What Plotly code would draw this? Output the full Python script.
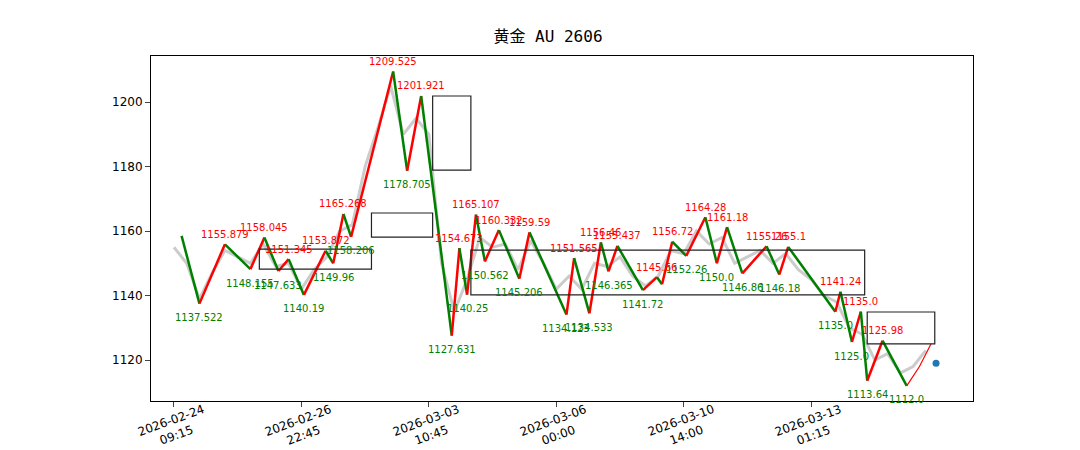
import plotly.graph_objects as go

# bar index of each pivot and its price
piv_x = [6, 20, 40, 60, 71, 82, 90, 102, 119, 125, 133, 139, 172, 183, 194, 218, 224, 230, 237, 244,
         255, 271, 279, 308, 314, 326, 335, 341, 348, 368, 379, 383, 391, 402, 417, 426, 434, 446,
         465, 475, 482, 519, 523, 532, 539, 544, 556, 575]
piv_y = [1158.5, 1137.5, 1155.9, 1148.2, 1158.0, 1147.6, 1151.3, 1140.2, 1153.9, 1150.0, 1165.3, 1158.2,
         1209.5, 1178.7, 1201.9, 1127.6, 1154.7, 1140.3, 1165.1, 1150.6, 1160.3, 1145.2, 1159.6, 1134.1,
         1151.6, 1134.5, 1156.5, 1147.5, 1155.4, 1141.7, 1145.7, 1143.5, 1156.7, 1152.3, 1164.3, 1150.0,
         1161.2, 1146.9, 1155.3, 1146.5, 1155.1, 1135.0, 1141.2, 1125.6, 1135.0, 1113.6, 1126.0, 1112.0]
piv_text = ['', '1137.522', '1155.879', '1148.155', '1158.045', '1147.633', '1151.345', '1140.19',
            '1153.872', '1149.96', '1165.268', '1158.206', '1209.525', '1178.705', '1201.921', '1127.631',
            '1154.673', '1140.25', '1165.107', '1150.562', '1160.332', '1145.206', '1159.59', '1134.123',
            '1151.565', '1134.533', '1156.46', '1146.365', '1155.437', '1141.72', '1145.66', '', '1156.72',
            '1152.26', '1164.28', '1150.0', '1161.18', '1146.86', '1155.26', '1146.18', '1155.1', '1135.0',
            '1141.24', '1125.0', '1135.0', '1113.64', '1125.98', '1112.0']

# unfinished last leg
tail_x = [575, 585, 594]
tail_y = [1112.0, 1118.0, 1125.0]
last_x, last_y = 598, 1119

# rough close prices every 10 bars
close_x = list(range(0, 600, 10))
close_y = [1155, 1150, 1139, 1147, 1154, 1152, 1150, 1156, 1149, 1150, 1142, 1148, 1152, 1160, 1162,
           1180, 1192, 1205, 1190, 1195, 1190, 1150, 1135, 1145, 1158, 1155, 1156, 1148, 1157, 1150,
           1142, 1146, 1142, 1150, 1149, 1152, 1146, 1143, 1146, 1154, 1153, 1160, 1156, 1158, 1150,
           1152, 1154, 1150, 1153, 1148, 1145, 1140, 1138, 1130, 1128, 1120, 1122, 1116, 1118, 1123]

# boxes: x0, x1, y0, y1
boxes = [(67, 155, 1148.2, 1154.4), (155, 203, 1158.1, 1165.6), (203, 233, 1178.9, 1201.9),
         (233, 542, 1140.2, 1154.1), (544, 597, 1125.0, 1134.9)]

tick_vals = [0, 100, 200, 300, 400, 500]
tick_text = ['2026-02-24<br>09:15', '2026-02-26<br>22:45', '2026-03-03<br>10:45',
             '2026-03-06<br>00:00', '2026-03-10<br>14:00', '2026-03-13<br>01:15']

fig = go.Figure()
fig.add_trace(go.Scatter(x=close_x, y=close_y, mode='lines',
                         line=dict(color='#cccccc', width=3), hoverinfo='skip'))

for i in range(len(piv_x) - 1):
    up = piv_y[i + 1] > piv_y[i]
    fig.add_trace(go.Scatter(x=piv_x[i:i + 2], y=piv_y[i:i + 2], mode='lines',
                             line=dict(color='red' if up else 'green', width=2.5)))

fig.add_trace(go.Scatter(x=tail_x, y=tail_y, mode='lines', line=dict(color='red', width=1.2)))
fig.add_trace(go.Scatter(x=[last_x], y=[last_y], mode='markers',
                         marker=dict(color='#1f77b4', size=7)))

for i in range(len(piv_x)):
    if not piv_text[i]:
        continue
    prev_y = piv_y[i - 1] if i > 0 else piv_y[i + 1]
    high = piv_y[i] > prev_y
    fig.add_annotation(x=piv_x[i], y=piv_y[i], text=piv_text[i], showarrow=False,
                       yshift=10 if high else -14,
                       font=dict(size=10, color='red' if high else 'green'))

for x0, x1, y0, y1 in boxes:
    fig.add_shape(type='rect', x0=x0, x1=x1, y0=y0, y1=y1,
                  line=dict(color='#222222', width=1.2))

# rotated date labels centred under each tick
for v, t in zip(tick_vals, tick_text):
    fig.add_annotation(x=v, y=0, xref='x', yref='paper', yanchor='middle', yshift=-27,
                       text=t, showarrow=False, textangle=-20,
                       font=dict(size=12, color='black'))

fig.update_layout(
    width=1080, height=450,
    title=dict(text='黄金 AU 2606', x=0.5, y=0.95,
               font=dict(family='DejaVu Sans Mono, Noto Sans CJK SC', size=16, color='black')),
    showlegend=False,
    plot_bgcolor='white', paper_bgcolor='white',
    margin=dict(l=143, r=115, t=48, b=57),
    font=dict(family='DejaVu Sans', size=12, color='black'),
)
fig.update_xaxes(range=[-18, 627], tickvals=tick_vals, ticktext=[''] * len(tick_vals),
                 showgrid=False, zeroline=False, showline=True, mirror=True, linecolor='black',
                 ticks='outside', automargin=False)
fig.update_yaxes(range=[1107.3, 1214.3], tickvals=[1120, 1140, 1160, 1180, 1200],
                 showgrid=False, zeroline=False, showline=True, mirror=True, linecolor='black',
                 ticks='outside', automargin=False)

fig.write_html("out.html")
